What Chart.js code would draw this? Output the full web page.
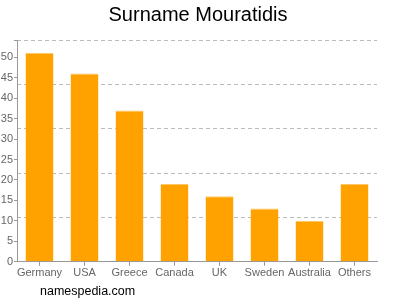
<!DOCTYPE html>
<html>
<head>
<meta charset="utf-8">
<script src="https://cdn.jsdelivr.net/npm/chart.js@4/dist/chart.umd.min.js"></script>
<style>
  html, body { margin: 0; padding: 0; background: #fff; }
  #wrap { width: 400px; height: 300px; position: relative; }
</style>
</head>
<body>
<div id="wrap"><canvas id="chart" width="400" height="300"></canvas></div>
<script>
// data
const countries = ['Germany', 'USA', 'Greece', 'Canada', 'UK', 'Sweden', 'Australia', 'Others'];
const counts = [51, 46, 37, 19, 16, 13, 10, 19];
const yMax = 54.2;
const tickStep = 5;
const titleText = 'Surname Mouratidis';
const footerText = 'namespedia.com';

const gray = '#999';
const labelColor = '#666';
const fontFamily = 'Arial, "Liberation Sans", sans-serif';

// title on top, site name underneath
const textPlugin = {
  id: 'texts',
  afterDraw(chart) {
    const c = chart.ctx;
    c.save();
    c.fillStyle = '#000';
    c.textBaseline = 'alphabetic';
    c.font = '20px ' + fontFamily;
    c.textAlign = 'center';
    c.fillText(titleText, 198, 21);
    c.font = '12.5px ' + fontFamily;
    c.textAlign = 'left';
    c.fillText(footerText, 40, 295);
    c.restore();
  }
};

const ctx = document.getElementById('chart').getContext('2d');
new Chart(ctx, {
  type: 'bar',
  data: {
    labels: countries,
    datasets: [{
      data: counts,
      backgroundColor: '#ffa200',
      borderColor: '#ffc866',
      borderWidth: { top: 1, left: 0, right: 0, bottom: 0 },
      borderSkipped: false,
      barPercentage: 0.62,
      categoryPercentage: 1
    }]
  },
  plugins: [textPlugin],
  options: {
    responsive: false,
    animation: false,
    layout: { padding: { left: 0, right: 23, top: 40, bottom: 19 } },
    plugins: {
      legend: { display: false },
      tooltip: { enabled: false },
      title: { display: false }
    },
    scales: {
      x: {
        grid: { display: true, drawOnChartArea: false, offset: false, tickLength: 4, color: gray },
        border: { color: gray },
        ticks: {
          color: labelColor,
          padding: 1,
          maxRotation: 0,
          autoSkip: false,
          font: { family: fontFamily, size: 11 }
        }
      },
      yGrid: {
        position: 'left',
        min: 0,
        max: yMax,
        afterFit: s => { s.width = 0; },
        grid: { color: '#bbb', drawTicks: false },
        border: { display: false, dash: [4, 3] },
        ticks: { display: false, count: 6 }
      },
      y: {
        position: 'left',
        min: 0,
        max: yMax,
        afterFit: s => { s.width = 17; },
        grid: { display: true, drawOnChartArea: false, tickLength: 3, color: gray },
        border: { color: gray },
        ticks: {
          stepSize: tickStep,
          color: labelColor,
          padding: 1,
          font: { family: fontFamily, size: 11 },
          callback: v => (v % tickStep === 0 ? v : '')
        }
      }
    }
  }
});
</script>
</body>
</html>
